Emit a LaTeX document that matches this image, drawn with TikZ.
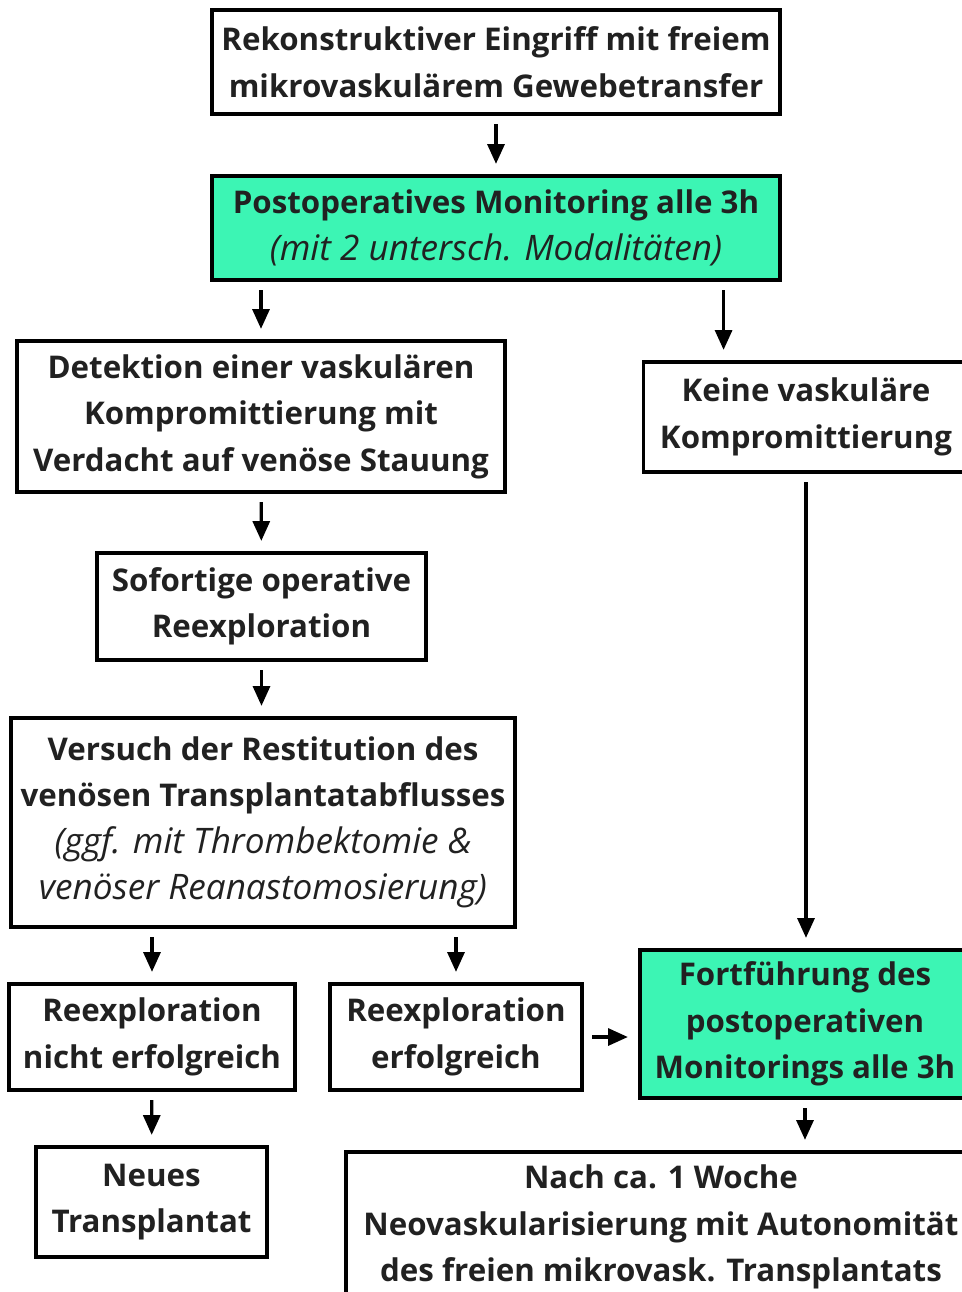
\documentclass[tikz,border=0pt]{standalone}
\usepackage{fontspec}
\setmainfont{Open Sans}
\usetikzlibrary{arrows.meta}
\usetikzlibrary{positioning}
\tikzset{box/.style = {draw, line width = 0.9pt, align = center, inner sep = 0,
    font = \fontsize{8.9}{13.2}\selectfont\bfseries, text = black!87}}
\tikzset{arr/.style = {line width = 0.9pt, -{Triangle[length = 5.6pt, width = 4.8pt]},
    shorten < = 2.4pt, shorten > = 3pt}}
\newcommand{\klammer}[1]{{\fontsize{10}{13.2}\selectfont\mdseries\itshape #1}}
\definecolor{mgreen}{RGB}{60, 245, 180}

\begin{document}
\begin{tikzpicture}
        \useasboundingbox (0, 0) rectangle (9.62, -12.92);
        \node [box, minimum width = 5.68cm, minimum height = 1.04cm] (eingriff) at (4.96, -0.62)
            {Rekonstruktiver Eingriff mit freiem\\mikrovaskulärem Gewebetransfer};
        \node [box, fill = mgreen, minimum width = 5.68cm, minimum height = 1.04cm] (monitor) at (4.96, -2.28)
            {Postoperatives Monitoring alle 3h\\\klammer{(mit 2 untersch. Modalitäten)}};
        \node [box, minimum width = 4.88cm, minimum height = 1.51cm] (detektion) at (2.61, -4.165)
            {Detektion einer vaskulären\\Kompromittierung mit\\Verdacht auf venöse Stauung};
        \node [box, minimum width = 3.25cm, minimum height = 1.10cm] (keine) at (8.06, -4.17)
            {Keine vaskuläre\\Kompromittierung};
        \node [box, minimum width = 3.29cm, minimum height = 1.07cm] (sofort) at (2.615, -6.065)
            {Sofortige operative\\Reexploration};
        \node [box, minimum width = 5.04cm, minimum height = 2.09cm] (versuch) at (2.63, -8.225)
            {Versuch der Restitution des\\venösen Transplantatabflusses\\
             \klammer{(ggf. mit Thrombektomie \&}\\\klammer{venöser Reanastomosierung)}};
        \node [box, minimum width = 2.86cm, minimum height = 1.06cm] (nicht) at (1.52, -10.37)
            {Reexploration\\nicht erfolgreich};
        \node [box, minimum width = 2.52cm, minimum height = 1.06cm] (erfolg) at (4.56, -10.37)
            {Reexploration\\erfolgreich};
        \node [box, fill = mgreen, minimum width = 3.30cm, minimum height = 1.48cm] (weiter) at (8.05, -10.24)
            {Fortführung des\\postoperativen\\Monitorings alle 3h};
        \node [box, minimum width = 2.31cm, minimum height = 1.10cm] (neu) at (1.515, -12.02)
            {Neues\\Transplantat};
        \node [box, minimum width = 6.30cm, minimum height = 1.50cm] (woche) at (6.61, -12.27)
            {Nach ca. 1 Woche\\Neovaskularisierung mit Autonomität\\des freien mikrovask. Transplantats};
        % Verbindungen
        \draw [arr] (eingriff) -- (monitor);
        \draw [arr] (detektion.north |- monitor.south) -- (detektion);
        \coordinate (abzweig) at ([xshift = -0.58cm] monitor.south east);
        \draw [arr] (abzweig) -- (abzweig |- keine.north);
        \draw [arr] (detektion) -- (sofort);
        \draw [arr] (sofort) -- (versuch.north -| sofort.south);
        \draw [arr] (nicht.north |- versuch.south) -- (nicht);
        \draw [arr] (erfolg.north |- versuch.south) -- (erfolg);
        \draw [arr] (erfolg) -- (weiter.west |- erfolg.east);
        \draw [arr] (keine.south) -- (keine.south |- weiter.north);
        \draw [arr] (nicht) -- (neu);
        \draw [arr] (weiter.south) -- (weiter.south |- woche.north);
      \end{tikzpicture}
\end{document}
